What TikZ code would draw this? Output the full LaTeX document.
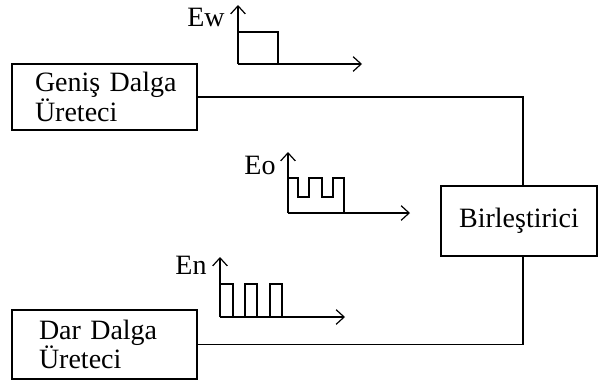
\documentclass[tikz,border=0pt]{standalone}
\usepackage{fontspec}
\setmainfont{Liberation Serif}
\usetikzlibrary{arrows.meta}
\begin{document}
\begin{tikzpicture}[x=0.75pt,y=-0.75pt,
  every node/.style={font=\fontsize{21}{22}\selectfont},
  box/.style={draw,line width=1.2pt,inner ysep=0pt},
  wline/.style={line width=1.2pt},
  axis/.style={line width=1.2pt,-{Straight Barb[length=6pt,width=11pt,line width=0.9pt]}},
  lbl/.style={inner sep=0pt}]
\useasboundingbox (0,0) rectangle (598,387);
% boxes
\node[box,align=left,text width=104.25pt,inner xsep=17.25pt,minimum height=49.5pt] (g) at (104.5,97) {\mbox{Geniş Dalga}\\Üreteci};
\node[box,align=left,text width=98.25pt,inner xsep=20.25pt,minimum height=51.75pt] (d) at (104.5,344.5) {\mbox{Dar Dalga}\\Üreteci};
\node[box,minimum width=117pt,minimum height=52.5pt] (b) at (519,221) {Birleştirici};
\coordinate (bt) at ([xshift=3pt]b.north);
\coordinate (bb) at ([xshift=3pt]b.south);
\draw[wline] (g.east) -| (bt);
\draw[wline] (d.east) -| (bb);
% Ew waveform
\draw[axis] (238,64) -- (238,5);
\draw[axis] (238,64) -- (362,64);
\draw[wline] (238,32) -- (278,32) -- (278,64);
\node[lbl] (ew) at (206,17) {Ew};
% Eo waveform
\draw[axis] (288,213) -- (288,152);
\draw[axis] (288,213) -- (410,213);
\draw[wline] (288,178) -- (298,178) -- (298,197) -- (309,197) -- (309,178) -- (322,178) -- (322,197) -- (333,197) -- (333,178) -- (344,178) -- (344,213);
\node[lbl] (eo) at (260,165) {Eo};
% En waveform
\draw[axis] (220,317) -- (220,257);
\draw[axis] (220,317) -- (345,317);
\draw[wline] (220,284) -- (233,284) -- (233,317);
\draw[wline] (245,317) -- (245,284) -- (257,284) -- (257,317);
\draw[wline] (270,317) -- (270,284) -- (282,284) -- (282,317);
\node[lbl] (en) at (191,265) {En};
\end{tikzpicture}
\end{document}
